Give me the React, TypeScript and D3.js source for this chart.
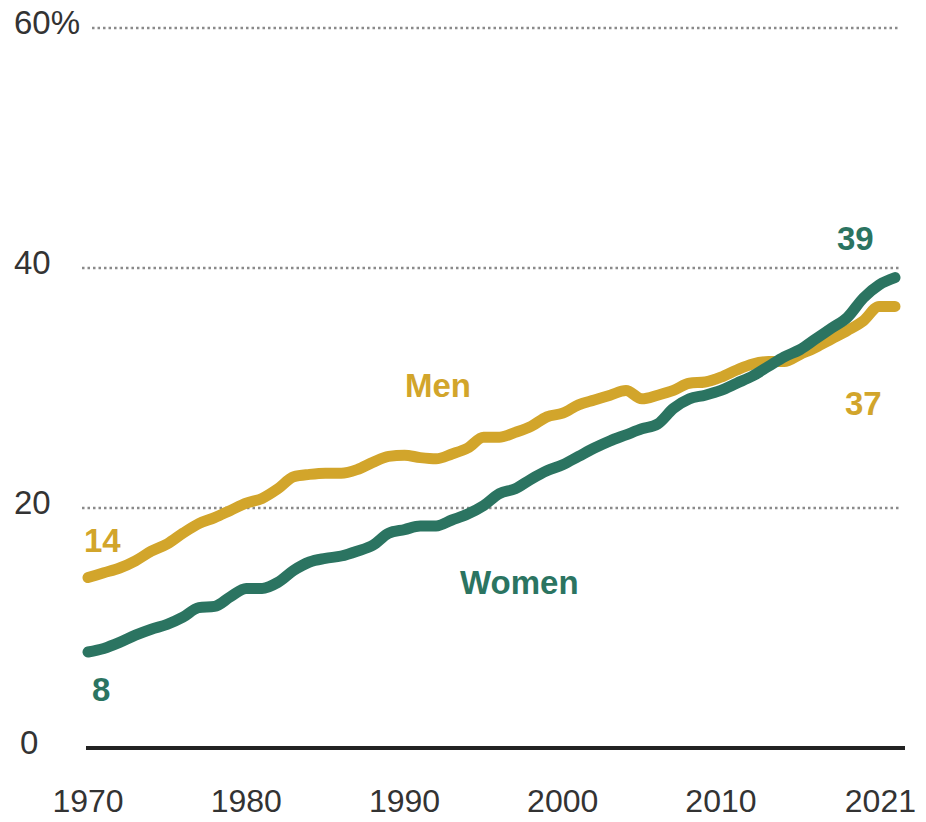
import React from "react";
import * as d3 from "d3";

const years: number[] = d3.range(1970, 2022);
const men: number[] = [
  14.2, 14.6, 15.0, 15.6, 16.4, 17.0, 17.9, 18.7, 19.2, 19.8,
  20.4, 20.8, 21.6, 22.6, 22.8, 22.9, 22.9, 23.2, 23.8, 24.3,
  24.4, 24.2, 24.1, 24.5, 25.0, 25.9, 25.9, 26.3, 26.8, 27.6,
  27.9, 28.6, 29.0, 29.4, 29.8, 29.1, 29.4, 29.8, 30.4, 30.5,
  30.9, 31.5, 32.0, 32.2, 32.2, 32.8, 33.4, 34.1, 34.8, 35.6,
  36.8, 36.8,
];
const women: number[] = [
  8.0, 8.3, 8.8, 9.4, 9.9, 10.3, 10.9, 11.7, 11.8, 12.6,
  13.3, 13.3, 13.8, 14.8, 15.5, 15.8, 16.0, 16.4, 16.9, 17.9,
  18.2, 18.5, 18.5, 19.0, 19.5, 20.2, 21.2, 21.6, 22.4, 23.1,
  23.6, 24.3, 25.0, 25.6, 26.1, 26.6, 27.0, 28.3, 29.1, 29.4,
  29.8, 30.4, 31.0, 31.8, 32.6, 33.2, 34.1, 35.0, 35.9, 37.5,
  38.6, 39.2,
];
const yTicks: number[] = [0, 20, 40, 60];
const yTickLabels: string[] = ["0", "20", "40", "60%"];
const xTicks: number[] = [1970, 1980, 1990, 2000, 2010, 2021];

const W = 926;
const H = 822;
const GOLD = "#d2a52b";
const GREEN = "#2b7461";

export default function App() {
  const x = d3.scaleLinear().domain([1970, 2021]).range([88, 895]);
  const y = d3.scaleLinear().domain([0, 60]).range([748, 28]);
  const line = d3
    .line<number>()
    .x((_, i) => x(years[i]))
    .y((d) => y(d))
    .curve(d3.curveMonotoneX);

  const font = "'Liberation Sans', Arial, sans-serif";

  return (
    <svg
      width={W}
      height={H}
      style={{ position: "absolute", left: 0, top: 0, background: "#fff" }}
      fontFamily={font}
    >
      {yTicks.map((t) =>
        t === 0 ? null : (
          <line
            key={"g" + t}
            x1={t === 60 ? 92 : 82}
            x2={900}
            y1={y(t)}
            y2={y(t)}
            stroke="#8a8a8a"
            strokeWidth={2.5}
            strokeDasharray="2.5,3"
          />
        )
      )}
      {yTicks.map((t, i) => (
        <text
          key={"yl" + t}
          x={t === 0 ? 20 : 14}
          y={y(t) - 3}
          dominantBaseline="middle"
          fontSize={33}
          fill="#333"
        >
          {yTickLabels[i]}
        </text>
      ))}
      <line x1={86} x2={905} y1={y(0)} y2={y(0)} stroke="#222" strokeWidth={4} />
      {xTicks.map((t) => (
        <text
          key={"xl" + t}
          x={t === 2021 ? 916 : x(t)}
          y={812}
          textAnchor={t === 2021 ? "end" : "middle"}
          fontSize={32}
          fill="#333"
        >
          {t}
        </text>
      ))}
      <path
        d={line(men) || ""}
        fill="none"
        stroke={GOLD}
        strokeWidth={11}
        strokeLinecap="round"
        strokeLinejoin="round"
      />
      <path
        d={line(women) || ""}
        fill="none"
        stroke={GREEN}
        strokeWidth={11}
        strokeLinecap="round"
        strokeLinejoin="round"
      />
      <g fontWeight="bold" fontSize={33}>
        <text x={405} y={397} fill={GOLD}>Men</text>
        <text x={460} y={594} fill={GREEN}>Women</text>
        <text x={84} y={552} fill={GOLD}>14</text>
        <text x={92} y={701} fill={GREEN}>8</text>
        <text x={837} y={250} fill={GREEN}>39</text>
        <text x={845} y={415} fill={GOLD}>37</text>
      </g>
    </svg>
  );
}
